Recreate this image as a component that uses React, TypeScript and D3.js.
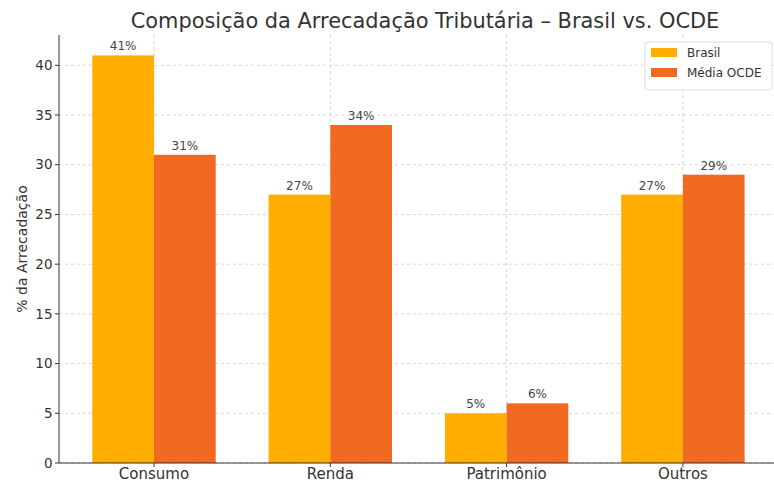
import React from "react";
import * as d3 from "d3";

const categories = ["Consumo", "Renda", "Patrimônio", "Outros"];
const brasil = [41, 27, 5, 27];
const ocde = [31, 34, 6, 29];
const yTicks = [0, 5, 10, 15, 20, 25, 30, 35, 40];
const seriesNames = ["Brasil", "Média OCDE"];
const colors = ["#FFAE00", "#F26A21"];

export default function App() {
  const W = 774, H = 482;
  const left = 59, bottom = 463, top = 35;
  const x = d3.scaleLinear().domain([0, 1]).range([154, 330.3]);
  const y = d3.scaleLinear().domain([0, 43.05]).range([bottom, top]);
  const bw = 0.35;
  const font = "DejaVu Sans, sans-serif";
  const series = [brasil, ocde];
  return (
    <svg width={W} height={H} style={{ position: "absolute", left: 0, top: 0 }} fontFamily={font}>
      <rect width={W} height={H} fill="#fff" />
      {yTicks.map((t) => (
        <line key={"gy" + t} x1={left} x2={W} y1={y(t)} y2={y(t)} stroke="#ccc" strokeWidth={0.8} strokeDasharray="3,3" />
      ))}
      {categories.map((c, i) => (
        <line key={"gx" + c} x1={x(i)} x2={x(i)} y1={top} y2={bottom} stroke="#ccc" strokeWidth={0.8} strokeDasharray="3,3" />
      ))}
      {series.map((s, si) =>
        s.map((v, i) => {
          const x0 = x(i + (si === 0 ? -bw : 0));
          const x1 = x(i + (si === 0 ? 0 : bw));
          return (
            <g key={si + "-" + i}>
              <rect x={x0} y={y(v)} width={x1 - x0} height={bottom - y(v)} fill={colors[si]} />
              <text x={(x0 + x1) / 2} y={y(v) - 5} textAnchor="middle" fontSize={12} fill="#444">{v}%</text>
            </g>
          );
        })
      )}
      <line x1={left} x2={left} y1={top} y2={bottom} stroke="#333" strokeWidth={1} />
      <line x1={left} x2={W} y1={bottom} y2={bottom} stroke="#333" strokeWidth={1} />
      {yTicks.map((t) => (
        <g key={"ty" + t}>
          <line x1={left - 4} x2={left} y1={y(t)} y2={y(t)} stroke="#333" />
          <text x={left - 6.5} y={y(t)} dy="0.35em" textAnchor="end" fontSize={13.5} fill="#333">{t}</text>
        </g>
      ))}
      {categories.map((c, i) => (
        <g key={"tx" + c}>
          <line x1={x(i)} x2={x(i)} y1={bottom} y2={bottom + 4} stroke="#333" />
          <text x={x(i)} y={478.5} textAnchor="middle" fontSize={15} fill="#333">{c}</text>
        </g>
      ))}
      <text transform={`translate(27,${(top + bottom) / 2}) rotate(-90)`} textAnchor="middle" fontSize={14} fill="#333">% da Arrecadação</text>
      <text x={425} y={28} textAnchor="middle" fontSize={20.9} fill="#333">Composição da Arrecadação Tributária – Brasil vs. OCDE</text>
      <g>
        <rect x={645} y={42} width={127} height={48} rx={3} fill="#fff" fillOpacity={0.85} stroke="#ddd" />
        {seriesNames.map((n, i) => (
          <g key={n}>
            <rect x={651} y={48 + i * 20} width={26} height={9} fill={colors[i]} />
            <text x={687} y={53 + i * 20} dy="0.35em" fontSize={12} fill="#333">{n}</text>
          </g>
        ))}
      </g>
    </svg>
  );
}
